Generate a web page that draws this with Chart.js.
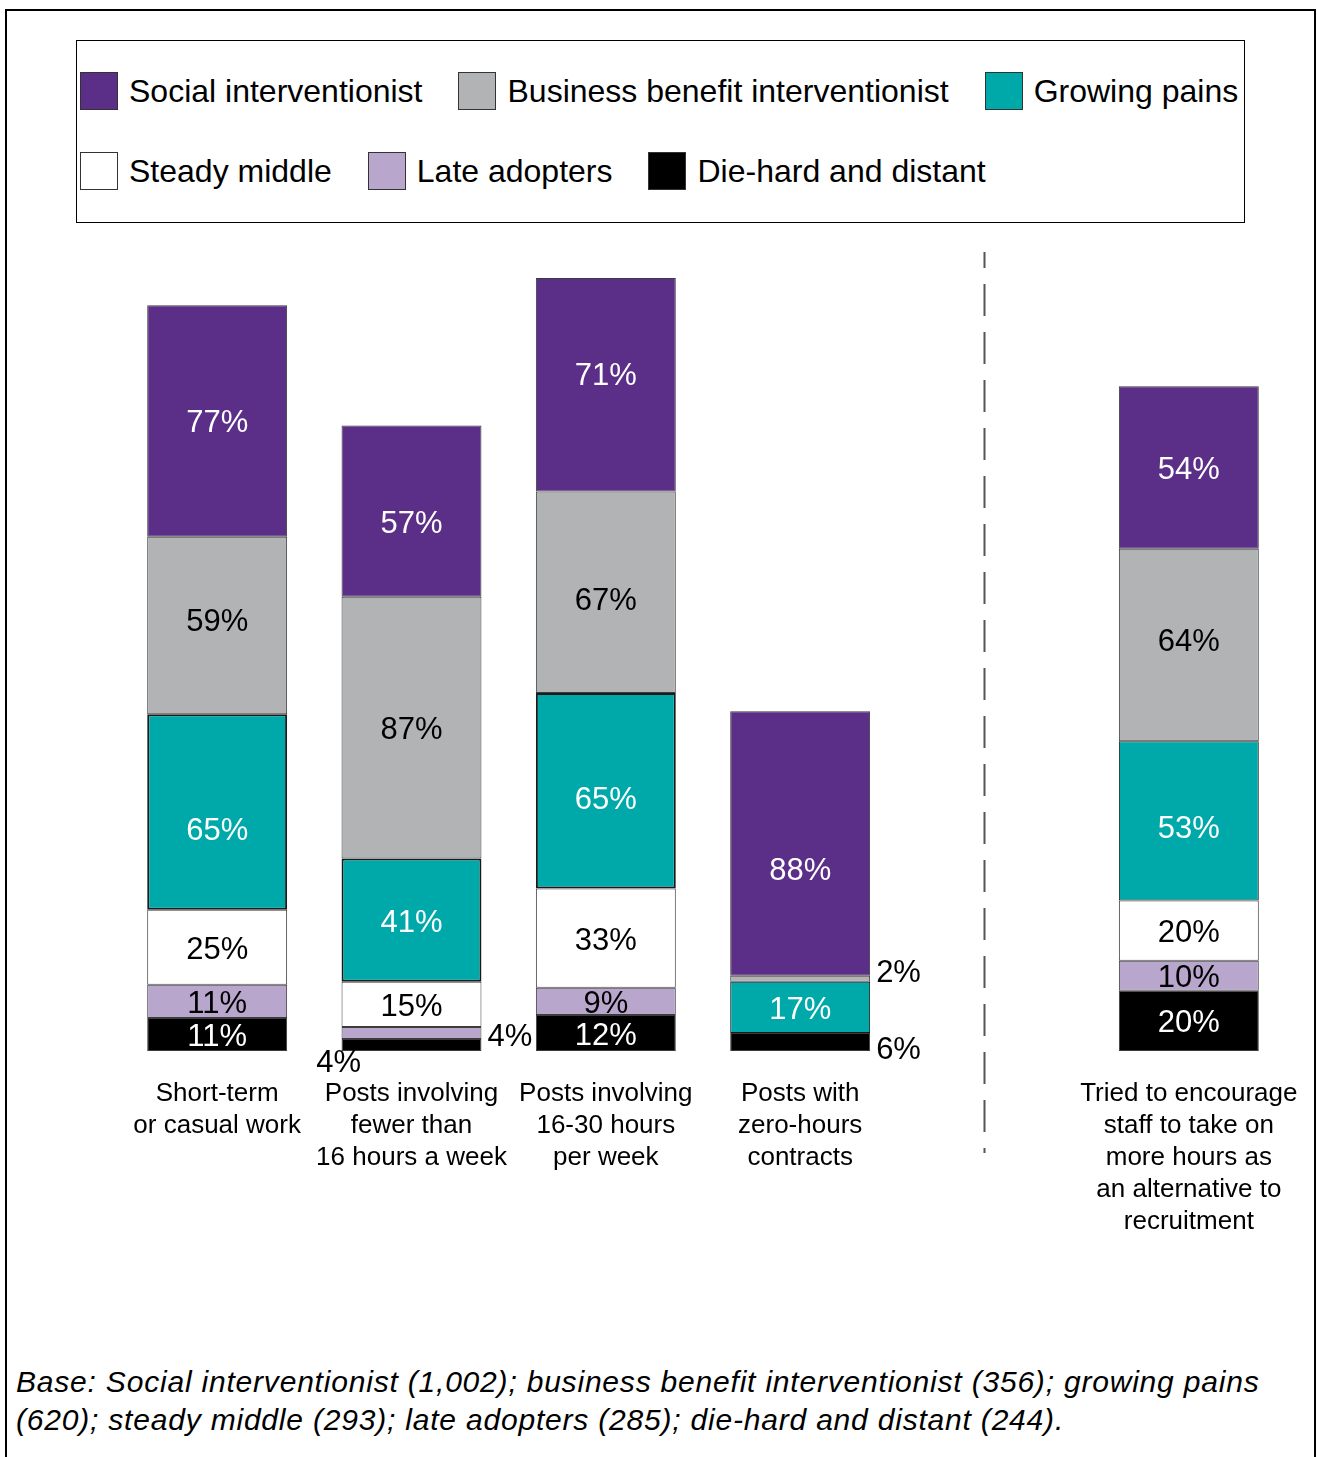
<!DOCTYPE html>
<html>
<head>
<meta charset="UTF-8">
<title>Segments and working hours</title>

<style type="text/css">
  body {
    margin: 0;
    width: 1317px;
    height: 1457px;
    overflow: hidden;
    background: #fff;
    font-family: "Liberation Sans", Arial, sans-serif;
    color: #000;
  }
  #frame {
    position: absolute;
    left: 5px;
    top: 9px;
    width: 1307px;
    height: 1500px;
    border: 2px solid #000;
  }
  #legend {
    position: absolute;
    left: 76px;
    top: 40px;
    width: 1167px;
    height: 181px;
    border: 1px solid #000;
  }
  .legend-row {
    position: absolute;
    left: 3px;
    height: 38px;
    display: flex;
    align-items: center;
    white-space: nowrap;
  }
  .swatch {
    width: 36px;
    height: 36px;
    border: 1px solid #333;
    margin-right: 11px;
    flex: none;
  }
  .legend-text {
    font-size: 32px;
    margin-right: 36px;
  }
  #chart-container {
    position: absolute;
    left: 0;
    top: 0;
    width: 1317px;
    height: 1300px;
  }
  #note {
    position: absolute;
    left: 16px;
    top: 1363px;
    font-size: 30px;
    letter-spacing: 0.8px;
    line-height: 38px;
    font-style: italic;
    white-space: nowrap;
  }
</style>

<script type="text/javascript" src="https://cdn.jsdelivr.net/npm/chart.js@4.4.1/dist/chart.umd.min.js"></script>
</head>

<body>

<div id="frame"></div>
<div id="legend"></div>
<div id="chart-container">
  <canvas id="mycanvas"></canvas>
</div>
<div id="note">Base: Social interventionist (1,002); business benefit interventionist (356); growing pains<br>(620); steady middle (293); late adopters (285); die-hard and distant (244).</div>

<script>
// categories (the empty slot keeps the gap before the last bar)
var categories = [
  ['Short-term', 'or casual work'],
  ['Posts involving', 'fewer than', '16 hours a week'],
  ['Posts involving', '16-30 hours', 'per week'],
  ['Posts with', 'zero-hours', 'contracts'],
  [],
  ['Tried to encourage', 'staff to take on', 'more hours as', 'an alternative to', 'recruitment']
];

var seriesNames = ['Social interventionist', 'Business benefit interventionist', 'Growing pains',
                   'Steady middle', 'Late adopters', 'Die-hard and distant'];

// % of each segment
var socialInterventionist   = [77, 57, 71, 88, null, 54];
var businessBenefit         = [59, 87, 67, 2, null, 64];
var growingPains            = [65, 41, 65, 17, null, 53];
var steadyMiddle            = [25, 15, 33, 0, null, 20];
var lateAdopters            = [11, 4, 9, 0, null, 10];
var dieHardAndDistant       = [11, 4, 12, 6, null, 20];

var seriesValues = [socialInterventionist, businessBenefit, growingPains,
                    steadyMiddle, lateAdopters, dieHardAndDistant];

var fills = ['#5b2e87', '#b2b3b5', '#00a9a9', '#ffffff', '#b9a6cd', '#000000'];
var inks  = ['#fff', '#000', '#fff', '#000', '#000', '#fff'];

// small segments get their label outside the bar
var outside = {
  'Late adopters|1':          { side: 'right', dy: 1 },
  'Die-hard and distant|1':   { side: 'under', dy: 0 },
  'Business benefit interventionist|3': { side: 'right', dy: -8 },
  'Die-hard and distant|3':   { side: 'right', dy: 5 }
};

// labels that sit off the segment centre
var nudge = {
  'Business benefit interventionist|0': -6,
  'Growing pains|0': 17,
  'Social interventionist|1': 10,
  'Social interventionist|2': -11,
  'Business benefit interventionist|2': 6,
  'Growing pains|2': 7,
  'Social interventionist|3': 25,
  'Business benefit interventionist|5': -6,
  'Growing pains|5': 6
};

var FONT = '"Liberation Sans", Arial, sans-serif';

// legend, two rows of three
var legend = document.getElementById('legend');
[[0, 1, 2], [3, 4, 5]].forEach(function(row, r) {
  var div = document.createElement('div');
  div.className = 'legend-row';
  div.style.top = (r === 0 ? 31 : 111) + 'px';
  row.forEach(function(i) {
    var sw = document.createElement('span');
    sw.className = 'swatch';
    sw.style.background = fills[i];
    var tx = document.createElement('span');
    tx.className = 'legend-text';
    tx.textContent = seriesNames[i];
    div.appendChild(sw);
    div.appendChild(tx);
  });
  legend.appendChild(div);
});

// stack from the bottom: die-hard first, social interventionist on top
var datasets = [];
for (var i = seriesNames.length - 1; i >= 0; i--) {
  var teal = seriesNames[i] === 'Growing pains';
  datasets.push({
    label: seriesNames[i],
    data: seriesValues[i],
    backgroundColor: fills[i],
    borderColor: teal ? '#1a1a1a' : '#3c3c3c',
    borderWidth: teal ? [2, 2, 2, 1, 0, 1] : 1,
    borderSkipped: false,
    ink: inks[i]
  });
}

var segmentLabels = {
  id: 'segmentLabels',
  afterDatasetsDraw: function(chart) {
    var ctx = chart.ctx;
    ctx.save();
    ctx.font = '31px ' + FONT;
    ctx.textBaseline = 'middle';
    chart.data.datasets.forEach(function(ds, di) {
      chart.getDatasetMeta(di).data.forEach(function(bar, j) {
        var v = ds.data[j];
        if (!v) return;
        var p = bar.getProps(['x', 'y', 'base', 'width'], true);
        var key = ds.label + '|' + j;
        var x = p.x, y = (p.y + p.base) / 2 + 3 + (nudge[key] || 0);
        var place = outside[key];
        ctx.textAlign = 'center';
        ctx.fillStyle = ds.ink;
        if (place && place.side === 'right') {
          x = p.x + p.width / 2 + 6;
          y = (p.y + p.base) / 2 + 3 + place.dy;
          ctx.textAlign = 'left';
          ctx.fillStyle = '#000';
        } else if (place && place.side === 'under') {
          x = p.x - p.width / 2 - 3;
          y = p.base + 12;
          ctx.fillStyle = '#000';
        }
        ctx.fillText(v + '%', x, y);
      });
    });
    ctx.restore();
  }
};

var categoryLabels = {
  id: 'categoryLabels',
  afterDraw: function(chart) {
    var ctx = chart.ctx;
    var xs = chart.scales.x;
    var bottom = chart.chartArea.bottom;
    ctx.save();
    ctx.font = '26px ' + FONT;
    ctx.fillStyle = '#000';
    ctx.textAlign = 'center';
    ctx.textBaseline = 'middle';
    categories.forEach(function(lines, j) {
      lines.forEach(function(line, k) {
        ctx.fillText(line, xs.getPixelForValue(j), bottom + 43 + k * 32);
      });
    });
    ctx.restore();
  }
};

// dashed divider ahead of the last bar
var divider = {
  id: 'divider',
  beforeDatasetsDraw: function(chart) {
    var ctx = chart.ctx;
    var area = chart.chartArea;
    var x = chart.scales.x.getPixelForValue(4) - 10;
    ctx.save();
    ctx.strokeStyle = '#555';
    ctx.lineWidth = 2;
    ctx.setLineDash([32, 16]);
    ctx.lineDashOffset = 16;
    ctx.beginPath();
    ctx.moveTo(x, area.top + 1);
    ctx.lineTo(x, area.bottom + 102);
    ctx.stroke();
    ctx.restore();
  }
};

new Chart(document.getElementById('mycanvas'), {
  type: 'bar',
  data: {
    labels: categories.map(function(c) { return c.join(' '); }),
    datasets: datasets
  },
  options: {
    responsive: true,
    maintainAspectRatio: false,
    animation: false,
    events: [],
    layout: { padding: { left: 120, right: 31, top: 251, bottom: 249 } },
    datasets: { bar: { barPercentage: 0.72, categoryPercentage: 1.0 } },
    plugins: {
      legend: { display: false },
      tooltip: { enabled: false }
    },
    scales: {
      x: { stacked: true, display: false },
      y: { stacked: true, display: false, min: 0, max: 266 }
    }
  },
  plugins: [divider, segmentLabels, categoryLabels]
});
</script>

</body>
</html>
